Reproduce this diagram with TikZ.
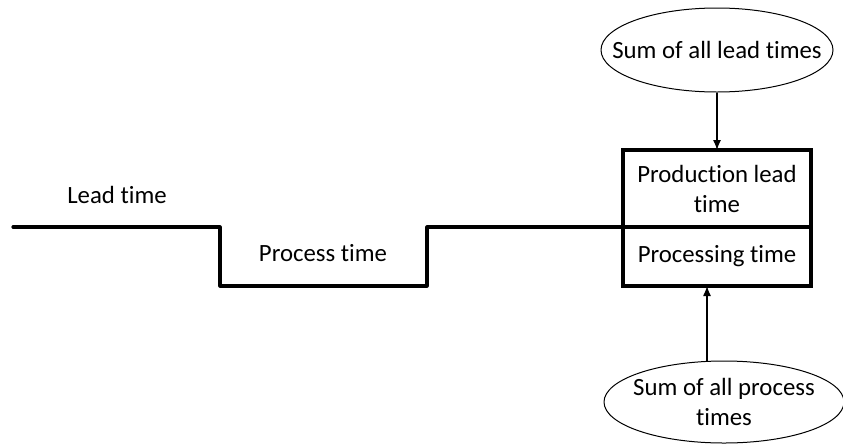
\documentclass[tikz,border=0pt]{standalone}
\usepackage{fontspec}
\setmainfont[Ligatures={NoCommon}]{Carlito}
\usepackage{tikz}
\usetikzlibrary{arrows.meta, shapes.geometric}

\tikzset{
  label text/.style={font=\fontsize{24.8}{30}\selectfont, inner sep=0pt},
  time box/.style={draw, line width=4pt, minimum width=188pt, align=center,
    font=\fontsize{24.8}{30}\selectfont, inner sep=0pt, outer sep=0pt},
  sum oval/.style={draw, ellipse, line width=1pt, align=center,
    font=\fontsize{24.8}{30}\selectfont, inner xsep=-40pt, inner ysep=-8pt},
  feed/.style={line width=1.2pt, -{Latex[length=10pt,width=8pt]}},
  step line/.style={line width=3.2pt, line cap=round, line join=round}
}

\begin{document}
\begin{tikzpicture}[x=1pt, y=-1pt]
		\useasboundingbox (0,0) rectangle (843,445);

		% Box on the right
		\node[time box, minimum height=77pt] (plt) at (717,188.5) {Production lead\\time};
		\node[time box, minimum height=59pt] (pt) at (717,256.5) {Processing time};

		% Ovals
		\node[sum oval, minimum width=232pt, minimum height=84pt] (sumlead) at (717,50) {Sum of all lead times};
		\node[sum oval, minimum width=240pt, minimum height=82pt] (sumproc) at (724,402) {Sum of all process\\times};

		% Arrows
		\draw[feed] (sumlead) -- (plt);
		\draw[feed] ([xshift=-17pt]sumproc.north) -- ([xshift=-10pt]pt.south);

		% Time line
		\coordinate (start) at (13,227);
		\draw[step line] (start) -- (220,227) -- (220,286) -- (427,286) -- (427,227) -- (plt.south west);

		% Labels
		\node[label text] (lead) at (117,195) {Lead time};
		\node[label text] (process) at (323,253) {Process time};
	\end{tikzpicture}
\end{document}
